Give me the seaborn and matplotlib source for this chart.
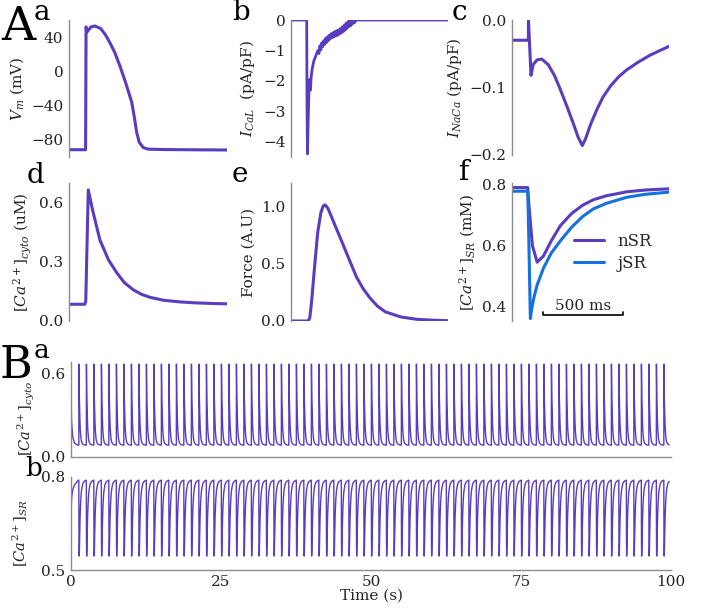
import numpy as np
import matplotlib
matplotlib.use("Agg")
import matplotlib.pyplot as plt
import seaborn as sns

sns.set_style("white")
plt.rcParams["font.family"] = ["DejaVu Serif"]
plt.rcParams["mathtext.fontset"] = "dejavuserif"

PURPLE = "#5a3cbf"
BLUE = "#1570e0"
SPINE = "#8c8c8c"
TXT = "#222222"

# ---- single beat traces (time in ms) ----
va_t = [0, 100, 105, 108, 114, 122, 140, 165, 200, 230, 260, 290, 323, 360, 397, 415, 428, 445, 470, 500, 600, 800, 1000]
va_v = [-91.5, -91.5, -91.5, 52, 46, 48, 52, 53, 50, 43, 33, 22, 6, -14, -36, -55, -71, -83, -89, -90.8, -91.3, -91.6, -91.8]

ib_t = [0, 100, 102, 105, 109, 114, 120, 124, 128, 135, 145, 160, 172, 178, 184, 190, 196, 202, 208, 214, 220, 226, 232,
        238, 244, 250, 256, 262, 268, 274, 280, 286, 292, 298, 304, 310, 316, 322, 328, 334, 340, 346, 352, 358, 364,
        370, 376, 382, 388, 394, 400, 406, 412, 418, 1000]
ib_v = [0, 0, -2.8, -4.4, -3.4, -2.4, -1.95, -2.3, -1.9, -1.6, -1.35, -1.15, -1.0, -1.1, -0.85, -0.98, -0.75, -0.88, -0.68,
        -0.8, -0.6, -0.74, -0.55, -0.68, -0.5, -0.62, -0.45, -0.58, -0.42, -0.55, -0.38, -0.52, -0.35, -0.5, -0.32, -0.46,
        -0.28, -0.42, -0.22, -0.38, -0.16, -0.33, -0.1, -0.27, -0.05, -0.22, -0.02, -0.18, 0, -0.12, 0, -0.08, 0, 0, 0]

ic_t = [0, 100, 104, 105, 121, 135, 160, 190, 230, 270, 308, 350, 390, 420, 448, 470, 500, 540, 580, 630, 680, 730, 800, 880, 1000]
ic_v = [-0.030, -0.030, -0.030, 0.0, -0.082, -0.066, -0.059, -0.058, -0.066, -0.082, -0.103, -0.128, -0.153, -0.173, -0.186,
        -0.175, -0.155, -0.133, -0.114, -0.097, -0.084, -0.074, -0.063, -0.052, -0.039]

cd_t = [0, 100, 106, 122, 150, 196, 250, 302, 350, 407, 460, 513, 600, 700, 800, 900, 1000]
cd_v = [0.085, 0.085, 0.1, 0.665, 0.56, 0.41, 0.31, 0.245, 0.195, 0.158, 0.135, 0.12, 0.105, 0.097, 0.092, 0.089, 0.087]

fe_t = [0, 110, 120, 132, 150, 170, 190, 205, 217, 235, 260, 290, 333, 375, 418, 460, 503, 550, 600, 700, 800, 900, 1000]
fe_v = [0, 0, 0.03, 0.18, 0.47, 0.77, 0.94, 1.0, 1.01, 0.98, 0.9, 0.8, 0.66, 0.52, 0.38, 0.28, 0.2, 0.13, 0.08, 0.035, 0.015, 0.007, 0.003]

nsr_t = [0, 100, 105, 130, 160, 200, 250, 308, 380, 450, 518, 600, 730, 850, 1000]
nsr_v = [0.79, 0.79, 0.75, 0.6, 0.545, 0.565, 0.615, 0.665, 0.705, 0.732, 0.75, 0.763, 0.776, 0.782, 0.786]

jsr_t = [0, 100, 104, 117, 125, 140, 160, 200, 250, 308, 380, 450, 518, 600, 730, 850, 1000]
jsr_v = [0.778, 0.778, 0.7, 0.36, 0.39, 0.43, 0.47, 0.525, 0.575, 0.615, 0.66, 0.695, 0.72, 0.738, 0.758, 0.768, 0.775]

# ---- 100 s train: start transient, then the beat above repeated at each stimulus ----
b0_t = [0, 0.1, 0.3, 0.6, 1.0]
b0_cyto = [0.45, 0.25, 0.14, 0.1, 0.086]
b0_sr = [0.68, 0.73, 0.76, 0.775, 0.785]
stim_ms = 100
first_beat = 1.3
beat_period = 1.25
n_beats = 79


def tile(t_ms, v, t0, v0):
    t_ms = np.asarray(t_ms, float)
    v = np.asarray(v, float)
    keep = t_ms >= stim_ms
    ts, vs = [np.asarray(t0, float)], [np.asarray(v0, float)]
    for k in range(n_beats):
        ts.append(first_beat + k * beat_period + (t_ms[keep] - stim_ms) / 1000)
        vs.append(v[keep])
    return np.concatenate(ts), np.concatenate(vs)


bt_c, bv_c = tile(cd_t, cd_v, b0_t, b0_cyto)
bt_s, bv_s = tile(nsr_t, nsr_v, b0_t, b0_sr)

# ---- figure ----
W, H = 707, 612
fig = plt.figure(figsize=(W / 100, H / 100), dpi=100)


def px_axes(x0, y0, x1, y1):
    return fig.add_axes([x0 / W, 1 - y1 / H, (x1 - x0) / W, (y1 - y0) / H])


def style(ax, bottom=False):
    sns.despine(ax=ax, top=True, right=True, bottom=not bottom)
    for s in ["left", "bottom"]:
        ax.spines[s].set_color(SPINE)
        ax.spines[s].set_linewidth(1.0)
    ax.tick_params(axis="y", direction="out", length=3, color=SPINE, labelsize=11, labelcolor=TXT, pad=1)
    if bottom:
        ax.tick_params(axis="x", direction="in", length=4, color=SPINE, labelsize=11, labelcolor=TXT)
    else:
        ax.set_xticks([])
    ax.set_xlabel("")


def trace(ax, x, y, color=PURPLE, lw=2.2):
    sns.lineplot(x=x, y=y, ax=ax, color=color, lw=lw, estimator=None, sort=False)


ax_a = px_axes(69, 20, 227, 157)
ax_b = px_axes(291, 20, 448, 157)
ax_c = px_axes(512, 20, 669, 155)
ax_d = px_axes(69, 183, 227, 321)
ax_e = px_axes(291, 183, 448, 321)
ax_f = px_axes(512, 183, 669, 321)
ax_Ba = px_axes(71, 362, 671, 457)
ax_Bb = px_axes(71, 477, 671, 570)

trace(ax_a, va_t, va_v)
ax_a.set_ylim(-100, 60)
ax_a.set_yticks([40, 0, -40, -80])
ax_a.set_ylabel("$V_m$ (mV)", fontsize=11, color=TXT)

trace(ax_b, ib_t, ib_v, lw=2.0)
ax_b.set_ylim(-4.5, 0.0)
ax_b.set_yticks([0, -1, -2, -3, -4])
ax_b.set_ylabel("$I_{CaL}$  (pA/pF)", fontsize=11, color=TXT)

trace(ax_c, ic_t, ic_v)
ax_c.set_ylim(-0.2, 0.0)
ax_c.set_yticks([0.0, -0.1, -0.2])
ax_c.set_ylabel("$I_{NaCa}$ (pA/pF)", fontsize=11, color=TXT)

trace(ax_d, cd_t, cd_v)
ax_d.set_ylim(0, 0.7)
ax_d.set_yticks([0.0, 0.3, 0.6])
ax_d.set_ylabel("$[Ca^{2+}]_{cyto}$ (uM)", fontsize=11, color=TXT)

trace(ax_e, fe_t, fe_v)
ax_e.set_ylim(0, 1.2)
ax_e.set_yticks([0.0, 0.5, 1.0])
ax_e.set_ylabel("Force (A.U)", fontsize=11, color=TXT)

sns.lineplot(x=nsr_t, y=nsr_v, ax=ax_f, color=PURPLE, lw=2.2, estimator=None, sort=False, label="nSR")
sns.lineplot(x=jsr_t, y=jsr_v, ax=ax_f, color=BLUE, lw=2.2, estimator=None, sort=False, label="jSR")
ax_f.set_ylim(0.352, 0.805)
ax_f.set_yticks([0.4, 0.6, 0.8])
ax_f.set_ylabel("$[Ca^{2+}]_{SR}$ (mM)", fontsize=11, color=TXT)
ax_f.legend(loc="upper left", bbox_to_anchor=(0.30, 0.75), frameon=False, fontsize=12,
            handlelength=1.8, labelspacing=0.3, handletextpad=0.8)
# 500 ms scale bar
ax_f.plot([200, 200, 710, 710], [0.382, 0.372, 0.372, 0.382], color="black", lw=1.2, clip_on=False)
ax_f.text(455, 0.378, "500 ms", ha="center", va="bottom", fontsize=11, color=TXT)

for ax in [ax_a, ax_b, ax_c, ax_d, ax_e, ax_f]:
    ax.set_xlim(0, 1000)
    style(ax)

trace(ax_Ba, bt_c, bv_c, lw=1.0)
ax_Ba.set_ylim(0, 0.68)
ax_Ba.set_yticks([0.0, 0.6])
ax_Ba.set_ylabel("$[Ca^{2+}]_{cyto}$", fontsize=10.5, color=TXT)
ax_Ba.yaxis.set_label_coords(-0.056, 0.40)

trace(ax_Bb, bt_s, bv_s, lw=1.0)
ax_Bb.set_ylim(0.5, 0.8)
ax_Bb.set_yticks([0.5, 0.8])
ax_Bb.set_ylabel("$[Ca^{2+}]_{SR}$", fontsize=10.5, color=TXT)
ax_Bb.yaxis.set_label_coords(-0.068, 0.4)

for ax in [ax_Ba, ax_Bb]:
    ax.set_xlim(0, 100)
    style(ax, bottom=True)
    ax.set_xticks([0, 25, 50, 75, 100])
ax_Ba.set_xticklabels([])
ax_Bb.set_xlabel("Time (s)", fontsize=11, color=TXT, labelpad=0)


# panel letters
def lab(x, y, s, size):
    fig.text(x / W, 1 - y / H, s, fontsize=size, ha="left", va="baseline", color="black")


lab(1, 40, "A", 34)
lab(34, 20, "a", 20)
lab(232, 20, "b", 20)
lab(452, 20, "c", 20)
lab(27, 183, "d", 20)
lab(232, 182, "e", 20)
lab(459, 180, "f", 20)
lab(0, 378, "B", 32)
lab(34, 358, "a", 19)
lab(25, 476, "b", 19)

fig.savefig("out.png", dpi=100)
